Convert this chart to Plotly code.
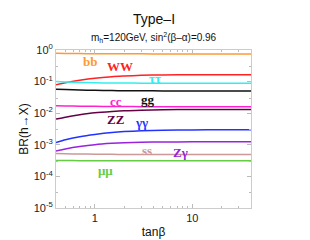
import numpy as np
import plotly.graph_objects as go

tanb = [0.4, 0.5, 0.7, 1, 1.5, 2, 3, 5, 10, 20, 40]

channels = ["bb", "WW", "ττ", "gg", "cc", "ZZ", "γγ", "Zγ", "ss", "μμ"]
br_bb = [0.79, 0.78, 0.77, 0.765, 0.76, 0.757, 0.755, 0.753, 0.752, 0.751, 0.75]
br_WW = [0.079, 0.092, 0.110, 0.128, 0.143, 0.150, 0.158, 0.162, 0.165, 0.166, 0.166]
br_tautau = [0.100, 0.097, 0.094, 0.092, 0.090, 0.090, 0.089, 0.089, 0.089, 0.089, 0.089]
br_gg = [0.057, 0.056, 0.054, 0.053, 0.052, 0.0515, 0.051, 0.0508, 0.0506, 0.0505, 0.0505]
br_cc = [0.0173, 0.0170, 0.0167, 0.0165, 0.0163, 0.0162, 0.0161, 0.0160, 0.0160, 0.0160, 0.0160]
br_ZZ = [0.0065, 0.0075, 0.0089, 0.0103, 0.0114, 0.0120, 0.0123, 0.0128, 0.0131, 0.0132, 0.0132]
br_gamgam = [0.00118, 0.00145, 0.00180, 0.00212, 0.00245, 0.00262, 0.00278, 0.00289, 0.00296, 0.00299, 0.00300]
br_Zgam = [0.00064, 0.00074, 0.00088, 0.00101, 0.00111, 0.00116, 0.00120, 0.00123, 0.00124, 0.00124, 0.00124]
br_ss = [0.00053, 0.00052, 0.00051, 0.000505, 0.0005, 0.000495, 0.000492, 0.00049, 0.00049, 0.00049, 0.00049]
br_mumu = [0.00032, 0.000318, 0.000315, 0.000313, 0.000312, 0.000311, 0.00031, 0.00031, 0.00031, 0.00031, 0.00031]

series = [br_bb, br_WW, br_tautau, br_gg, br_cc, br_ZZ, br_gamgam, br_Zgam, br_ss, br_mumu]
colors = ["#FF9933", "#FF2222", "#33EEEE", "#111111", "#FF22CC", "#660044",
          "#2233FF", "#9922DD", "#CC9999", "#66CC44"]

# label positions (tanβ, BR)
label_x = [0.89, 1.8, 4.1, 3.5, 1.64, 1.64, 3.0, 7.5, 3.4, 1.3]
label_y = [0.42, 0.29, 0.13, 0.028, 0.024, 0.0063, 0.0051, 0.00056, 0.00066, 0.00015]

ytick_vals = [1, 0.1, 0.01, 0.001, 0.0001, 0.00001]
ytick_text = ["10<sup>0</sup>", "10<sup>-1</sup>", "10<sup>-2</sup>", "10<sup>-3</sup>",
              "10<sup>-4</sup>", "10<sup>-5</sup>"]
xtick_vals = [1, 10]
xtick_text = ["1", "10"]

fig = go.Figure()
for name, vals, c in zip(channels, series, colors):
    fig.add_trace(go.Scatter(x=tanb, y=vals, mode="lines", name=name,
                             line=dict(color=c, width=1.5, shape="spline", smoothing=0.6)))

for name, lx, ly, c in zip(channels, label_x, label_y, colors):
    fig.add_annotation(x=np.log10(lx), y=np.log10(ly), text="<b>%s</b>" % name,
                       showarrow=False, xref="x", yref="y",
                       font=dict(family="Liberation Serif", size=13, color=c))

axis_common = dict(showline=True, linecolor="#cccccc", linewidth=1, mirror="ticks",
                   ticks="inside", ticklen=4, tickcolor="#bbbbbb", showgrid=False,
                   zeroline=False, tickfont=dict(family="Liberation Sans", size=11, color="#222"))

fig.update_xaxes(type="log", range=[np.log10(0.4), np.log10(40)],
                 tickvals=xtick_vals, ticktext=xtick_text,
                 minor=dict(ticks="inside", ticklen=2, tickcolor="#bbbbbb",
                            tickvals=[0.5, 0.6, 0.7, 0.8, 0.9, 2, 3, 4, 5, 6, 7, 8, 9, 20, 30, 40]),
                 title=dict(text="tanβ", font=dict(family="Liberation Sans", size=12, color="#111"),
                            standoff=4),
                 **axis_common)
fig.update_yaxes(type="log", range=[-5, 0],
                 tickvals=ytick_vals, ticktext=ytick_text,
                 minor=dict(ticks="inside", ticklen=2, tickcolor="#bbbbbb",
                            tickvals=[0.3, 0.03, 0.003, 0.0003, 0.00003]),
                 title=dict(text="BR(h→X)", font=dict(family="Liberation Sans", size=12, color="#111"),
                            standoff=2),
                 **axis_common)

fig.add_annotation(x=0.5, y=1, xref="paper", yref="paper", yanchor="bottom", yshift=21,
                   text="Type–I", showarrow=False,
                   font=dict(family="Liberation Sans", size=14, color="#111"))
fig.add_annotation(x=0.5, y=1, xref="paper", yref="paper", yanchor="bottom", yshift=4,
                   text="m<sub>h</sub>=120GeV, sin<sup>2</sup>(β–α)=0.96", showarrow=False,
                   font=dict(family="Liberation Sans", size=10, color="#111"))

fig.update_layout(width=310, height=240, showlegend=False,
                  margin=dict(l=48, r=67, t=42, b=40),
                  paper_bgcolor="white", plot_bgcolor="white")

fig.write_html("out.html")
